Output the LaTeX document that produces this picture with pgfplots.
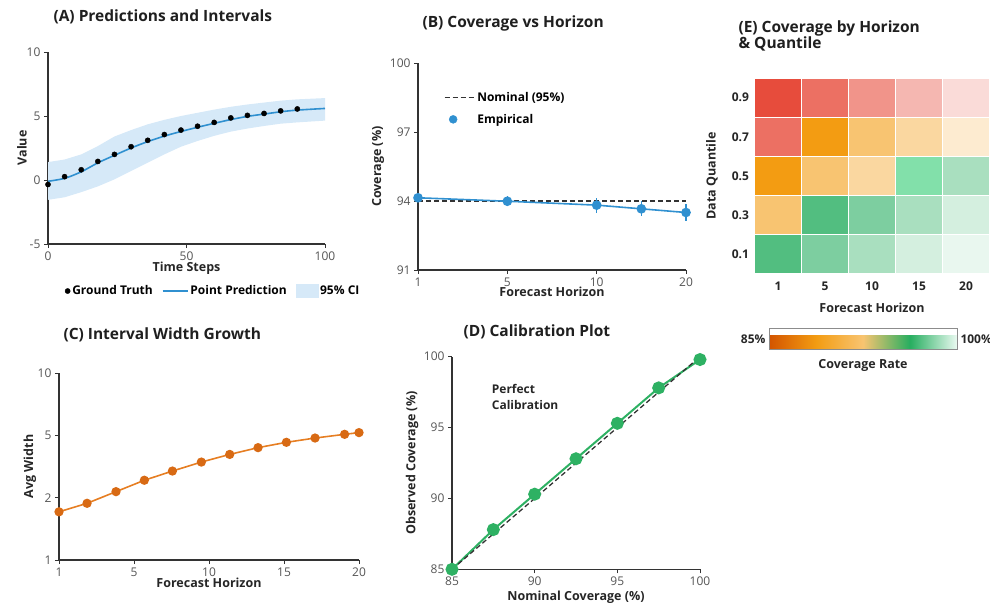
\documentclass[border=0pt]{standalone}
\usepackage{pgfplots}
\pgfplotsset{compat=1.18}
\usepackage{fontspec}
\setmainfont{Open Sans}
\definecolor{axisgray}{HTML}{333333}
\definecolor{tickgray}{HTML}{555555}
\definecolor{cblue}{HTML}{3090D0}
\definecolor{cbluef}{HTML}{D6E9F8}
\definecolor{corange}{HTML}{E67E22}
\definecolor{corangem}{HTML}{D86A14}
\definecolor{cgreen}{HTML}{2EB163}
% heatmap cell colours
\definecolor{ra}{HTML}{E74C3C}\definecolor{rb}{HTML}{EC7063}\definecolor{rc}{HTML}{F1948A}
\definecolor{rd}{HTML}{F5B7B1}\definecolor{re}{HTML}{FADBD8}
\definecolor{oa}{HTML}{F39C12}\definecolor{ob}{HTML}{F8C471}\definecolor{oc}{HTML}{FAD7A0}
\definecolor{od}{HTML}{FDEBD0}
\definecolor{ga}{HTML}{52BE80}\definecolor{gb}{HTML}{7DCEA0}\definecolor{gc}{HTML}{A9DFBF}
\definecolor{gd}{HTML}{D4EFDF}\definecolor{ge}{HTML}{E9F7EF}\definecolor{gm}{HTML}{82E0AA}
% colour bar
\definecolor{cm1}{HTML}{D35400}\definecolor{cm2}{HTML}{F39C12}\definecolor{cm3}{HTML}{F8C471}
\definecolor{cm4}{HTML}{27AE60}\definecolor{cm5}{HTML}{EAFAF1}

\pgfplotsset{
  panel/.style={scale only axis, axis lines*=left,
    axis line style={draw=axisgray,line width=1.1pt},
    tick align=outside, major tick length=4pt,
    tick style={draw=axisgray,line width=0.9pt},
    tick label style={font=\fontsize{12}{13}\selectfont,text=tickgray},
    label style={font=\bfseries\fontsize{12.5}{14}\selectfont,text=black!85},
    /pgf/number format/assume math mode=true,
    legend style={font=\bfseries\fontsize{12}{13}\selectfont,draw=none,fill=none},
  },
  lline/.style={legend image code/.code={\draw[##1] (0pt,0pt) -- (#1,0pt);}},
}
\tikzset{ttl/.style={font=\bfseries\fontsize{15.5}{17}\selectfont,anchor=west,text=black!88}}
\newcommand\cell[5]{\addplot[draw=white,line width=1.3pt,fill=#5] coordinates {(#1,#3) (#2,#3) (#2,#4) (#1,#4)} -- cycle;}

\begin{document}
\begin{tikzpicture}
\useasboundingbox (0,0) rectangle (990pt,-604pt);

% ---------------- (A)
\begin{axis}[panel, at={(48pt,-244pt)}, anchor=south west, width=277pt, height=192pt,
  xmin=0, xmax=100, ymin=-5, ymax=10, xtick={0,50,100}, ytick={-5,0,5,10},
  xlabel={Time Steps}, ylabel={Value},
  xlabel style={at={(axis description cs:0.5,0)},anchor=center,yshift=-24pt},
  ylabel style={at={(axis description cs:-0.094,0.5)},anchor=center},
  legend columns=3,
  legend style={at={(0.05,-0.245)},anchor=west,
    /tikz/every even column/.append style={column sep=7pt}},
  clip=false]
\addplot[fill=cbluef,draw=none,forget plot] coordinates {
 (0,1.4) (6,1.6) (12,2.0) (18,2.65) (24,3.4) (30,3.9) (36,4.35) (42,4.7) (48,5.0)
 (54,5.25) (60,5.5) (66,5.72) (72,5.9) (78,6.05) (84,6.2) (90,6.3) (100,6.4)
 (100,4.64) (90,4.5) (84,4.4) (78,4.22) (72,4.02) (66,3.78) (60,3.45) (54,3.05)
 (48,2.6) (42,2.0) (36,1.35) (30,0.7) (24,0.05) (18,-0.5) (12,-0.95) (6,-1.35) (0,-1.55)} -- cycle;
\addplot[only marks,mark=*,mark size=2.6pt,black] coordinates {
 (0,-0.35) (6,0.26) (12,0.8) (18,1.45) (24,2.0) (30,2.6) (36,3.1) (42,3.55)
 (48,3.9) (54,4.2) (60,4.5) (66,4.85) (72,5.05) (78,5.2) (84,5.4) (90,5.55)};
\addlegendentry{Ground Truth}
\addplot[cblue,line width=1.6pt,smooth,lline=25pt] coordinates {
 (0,-0.1) (6,0.13) (12,0.64) (18,1.34) (24,1.93) (30,2.5) (36,3.0) (42,3.43)
 (48,3.79) (54,4.12) (60,4.43) (66,4.72) (72,4.97) (78,5.15) (84,5.33) (90,5.46) (100,5.59)};
\addlegendentry{Point Prediction}
\addlegendimage{legend image code/.code={\fill[cbluef] (0pt,-6pt) rectangle (22pt,7pt);}}
\addlegendentry{95\% CI}
\end{axis}
\node[ttl] at (50pt,-17pt) {(A) Predictions and Intervals};

% ---------------- (B)
\begin{axis}[panel, at={(418pt,-270pt)}, anchor=south west, width=268pt, height=207pt,
  xmin=0, xmax=6, ymin=91, ymax=100, xtick={0,2,4,6}, xticklabels={1,5,10,20},
  ytick={91,94,97,100},
  xlabel={Forecast Horizon}, ylabel={Coverage (\%)},
  xlabel style={at={(axis description cs:0.5,0)},anchor=center,yshift=-22pt},
  ylabel style={at={(axis description cs:-0.149,0.5)},anchor=center},
  legend cell align=left,
  legend style={at={(0.085,0.78)},anchor=west,row sep=7pt},
  clip=false]
\addplot[black!80,line width=1.3pt,dash pattern=on 5pt off 3pt,lline=30pt] coordinates {(0,94) (6,94)};
\addlegendentry{Nominal (95\%)}
\addplot[cblue,line width=1.6pt,mark=*,mark size=4pt,forget plot,
  error bars/.cd, y dir=both, y explicit, error mark=none,
  error bar style={line width=1.4pt,cblue}] coordinates {
 (0,94.14) +- (0,0.15)
 (2,93.99) +- (0,0.22)
 (4,93.82) +- (0,0.32)
 (5,93.66) +- (0,0.32)
 (6,93.50) +- (0,0.38)};
\addlegendimage{only marks,mark=*,mark size=4pt,cblue}
\addlegendentry{Empirical}
\end{axis}
\node[ttl] at (419pt,-23pt) {(B) Coverage vs Horizon};

% ---------------- (C)
\begin{axis}[panel, at={(59pt,-560pt)}, anchor=south west, width=300pt, height=187pt,
  xmin=0, xmax=20, ymode=log, ymin=1, ymax=10,
  xtick={0,5,10,15,20}, xticklabels={1,5,10,15,20},
  ytick={1,2.154,4.642,10}, yticklabels={1,2,5,10}, minor ytick={},
  xlabel={Forecast Horizon}, ylabel={Avg Width},
  xlabel style={at={(axis description cs:0.5,0)},anchor=center,yshift=-23pt},
  ylabel style={at={(axis description cs:-0.097,0.5)},anchor=center},
  clip=false]
\addplot[corange,line width=1.6pt,mark=*,mark size=3.8pt,
  mark options={fill=corangem,draw=corangem}] coordinates {
 (0,1.81) (1.87,2.01) (3.8,2.32) (5.69,2.67) (7.56,2.99) (9.49,3.34)
 (11.38,3.67) (13.27,3.99) (15.16,4.26) (17.07,4.49) (19.04,4.70) (20,4.80)};
\end{axis}
\node[ttl] at (60pt,-335pt) {(C) Interval Width Growth};

% ---------------- (D)
\begin{axis}[panel, at={(452pt,-569.3pt)}, anchor=south west, width=248pt, height=212.6pt,
  xmin=85, xmax=100, ymin=85, ymax=100, xtick={85,90,95,100}, ytick={85,90,95,100},
  xlabel={Nominal Coverage (\%)}, ylabel={Observed Coverage (\%)},
  xlabel style={at={(axis description cs:0.5,0)},anchor=center,yshift=-28pt},
  ylabel style={at={(axis description cs:-0.161,0.5)},anchor=center},
  clip=false]
\addplot[cgreen,line width=2pt,mark=*,mark size=5.5pt] coordinates {
 (85,85.0) (87.5,87.8) (90,90.3) (92.5,92.8) (95,95.3) (97.5,97.8) (100,99.8)};
\addplot[black!80,line width=1.3pt,dash pattern=on 5pt off 3pt] coordinates {(85,85) (100,100)};
\node[anchor=north west,align=left,font=\bfseries\fontsize{12}{16}\selectfont,text=black!85]
  at (axis cs:87.2,98.3) {Perfect\\Calibration};
\end{axis}
\node[ttl] at (460pt,-332pt) {(D) Calibration Plot};

% ---------------- (E)
\begin{axis}[scale only axis, at={(754.5pt,-274pt)}, anchor=south west, width=235pt, height=196pt,
  xmin=0.5, xmax=5.5, ymin=0.5, ymax=5.5,
  axis line style={draw=none}, tick style={draw=none},
  xtick={1,2,3,4,5}, xticklabels={1,5,10,15,20},
  ytick={1,2,3,4,5}, yticklabels={0.1,0.3,0.5,0.7,0.9},
  tick label style={font=\bfseries\fontsize{12}{13}\selectfont,text=black!85},
  xticklabel style={yshift=-4pt}, yticklabel style={xshift=-2pt},
  label style={font=\bfseries\fontsize{12.5}{14}\selectfont,text=black!85},
  xlabel={Forecast Horizon}, ylabel={Data Quantile},
  xlabel style={at={(axis description cs:0.5,0)},anchor=center,yshift=-34pt},
  ylabel style={at={(axis description cs:-0.181,0.5)},anchor=center},
  colormap={cov}{color=(cm1) color=(cm2) color=(cm3) color=(cm4) color=(cm5)},
  point meta min=85, point meta max=100,
  colorbar horizontal,
  colorbar style={at={(parent axis.south west)}, anchor=north west,
    xshift=14.5pt, yshift=-46pt, scale only axis, width=188pt, height=21pt,
    xtick=\empty, axis line style={draw=black!45,line width=0.8pt},
    xlabel={Coverage Rate},
    xlabel style={font=\bfseries\fontsize{12.5}{14}\selectfont,text=black!85,
      at={(axis description cs:0.5,0)},anchor=center,yshift=-16pt},
    extra description/.code={
      \node[anchor=east,font=\bfseries\fontsize{12}{13}\selectfont,text=black!85]
        at (rel axis cs:0,0.5) {85\%};
      \node[anchor=west,font=\bfseries\fontsize{12}{13}\selectfont,text=black!85]
        at (rel axis cs:1,0.5) {100\%};}},
  clip=false]
\cell{0.5}{1.5}{4.5}{5.5}{ra}\cell{1.5}{2.5}{4.5}{5.5}{rb}\cell{2.5}{3.5}{4.5}{5.5}{rc}
\cell{3.5}{4.5}{4.5}{5.5}{rd}\cell{4.5}{5.5}{4.5}{5.5}{re}
\cell{0.5}{1.5}{3.5}{4.5}{rb}\cell{1.5}{2.5}{3.5}{4.5}{oa}\cell{2.5}{3.5}{3.5}{4.5}{ob}
\cell{3.5}{4.5}{3.5}{4.5}{oc}\cell{4.5}{5.5}{3.5}{4.5}{od}
\cell{0.5}{1.5}{2.5}{3.5}{oa}\cell{1.5}{2.5}{2.5}{3.5}{ob}\cell{2.5}{3.5}{2.5}{3.5}{oc}
\cell{3.5}{4.5}{2.5}{3.5}{gm}\cell{4.5}{5.5}{2.5}{3.5}{gc}
\cell{0.5}{1.5}{1.5}{2.5}{ob}\cell{1.5}{2.5}{1.5}{2.5}{ga}\cell{2.5}{3.5}{1.5}{2.5}{gb}
\cell{3.5}{4.5}{1.5}{2.5}{gc}\cell{4.5}{5.5}{1.5}{2.5}{gd}
\cell{0.5}{1.5}{0.5}{1.5}{ga}\cell{1.5}{2.5}{0.5}{1.5}{gb}\cell{2.5}{3.5}{0.5}{1.5}{gc}
\cell{3.5}{4.5}{0.5}{1.5}{gd}\cell{4.5}{5.5}{0.5}{1.5}{ge}
\end{axis}
\node[ttl,align=left,font=\bfseries\fontsize{15.5}{16}\selectfont] at (735pt,-36pt) {(E) Coverage by Horizon\\\& Quantile};
\end{tikzpicture}
\end{document}
